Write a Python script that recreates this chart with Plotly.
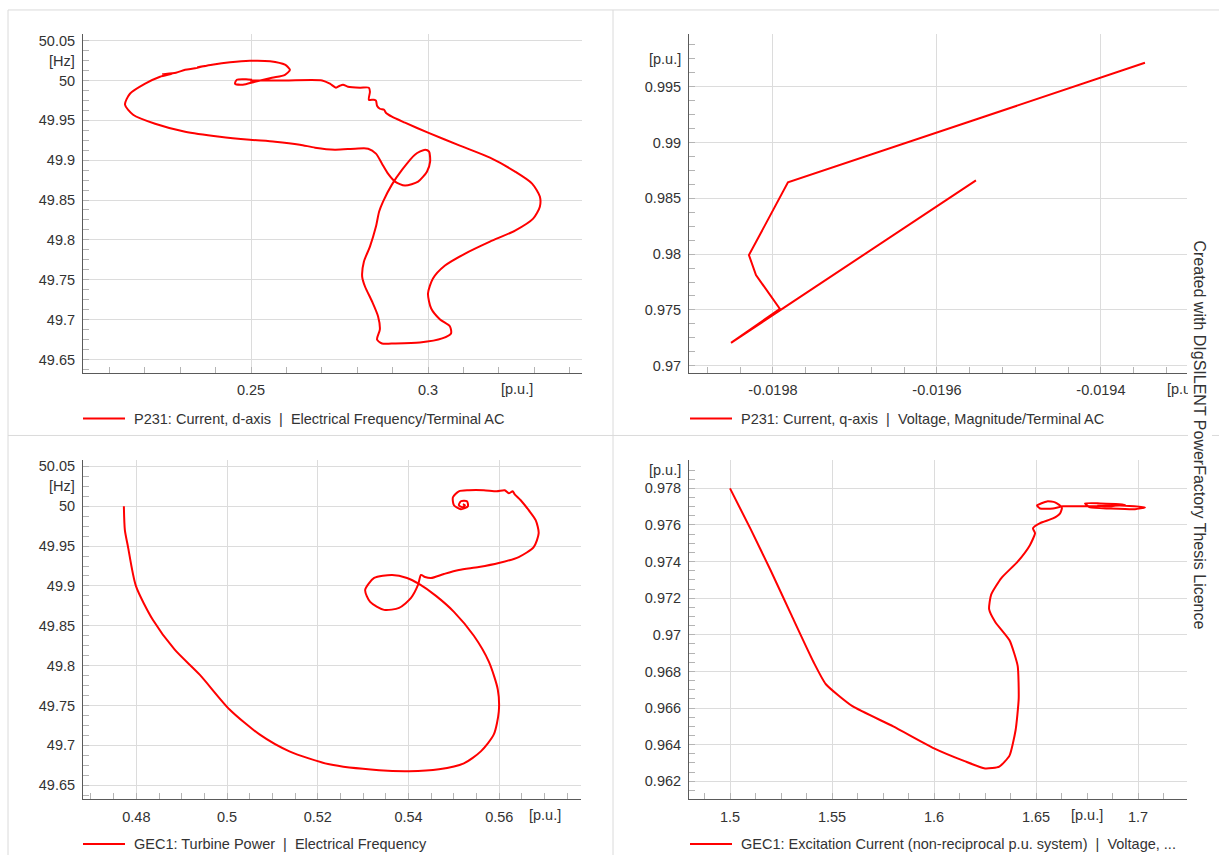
import plotly.graph_objects as go

W, H = 1219, 856

RED = "#ff0000"
GRID = "#dcdcdc"
AXIS = "#5a5a5a"
MINOR = "#b4b4b4"
FRAME = "#dadada"
TEXT = "#333333"
FONT = "Liberation Sans, Arial, sans-serif"

# P231: current d-axis [p.u.] vs electrical frequency [Hz]
P231_ID = [0.2497, 0.2596, 0.2701, 0.2723, 0.2740, 0.2751, 0.2760, 0.2774, 0.2808, 0.2833,
           0.2836, 0.2833, 0.2847, 0.2853, 0.2856, 0.2864, 0.2876, 0.2881, 0.2898, 0.2935,
           0.3000, 0.3090, 0.3175, 0.3246, 0.3294, 0.3316, 0.3316, 0.3297, 0.3246, 0.3175,
           0.3105, 0.3048, 0.3014, 0.3000, 0.3009, 0.3034, 0.3062, 0.3065, 0.3040, 0.2977,
           0.2907, 0.2870, 0.2856, 0.2864, 0.2859, 0.2842, 0.2822, 0.2814, 0.2819, 0.2836,
           0.2853, 0.2862, 0.2873, 0.2898, 0.2927, 0.2963, 0.2992, 0.3003, 0.3006, 0.2997,
           0.2972, 0.2935, 0.2907, 0.2887, 0.2870, 0.2853, 0.2831, 0.2794, 0.2737, 0.2681,
           0.2638, 0.2568, 0.2497, 0.2412, 0.2314, 0.2229, 0.2167, 0.2144, 0.2158, 0.2201,
           0.2243, 0.2277, 0.2251, 0.2288, 0.2314, 0.2342, 0.2370, 0.2350, 0.2390, 0.2441,
           0.2497, 0.2554, 0.2596, 0.2610, 0.2596, 0.2559, 0.2511, 0.2477, 0.2455, 0.2460,
           0.2486, 0.2503]
P231_FREQ = [50.000, 50.000, 50.000, 49.9959, 49.9909, 49.9934, 49.9946, 49.9921, 49.9909, 49.9909,
             49.9858, 49.9758, 49.9758, 49.9746, 49.9683, 49.9645, 49.9633, 49.9595, 49.9545, 49.9470,
             49.9345, 49.9182, 49.9031, 49.8856, 49.8706, 49.8543, 49.8417, 49.8267, 49.8117, 49.7979,
             49.7829, 49.7678, 49.7515, 49.7327, 49.7139, 49.7002, 49.6914, 49.6826, 49.6764, 49.6713,
             49.6701, 49.6701, 49.6751, 49.6876, 49.7039, 49.7227, 49.7415, 49.7540, 49.7728, 49.7916,
             49.8167, 49.8355, 49.8480, 49.8693, 49.8881, 49.9069, 49.9132, 49.9107, 49.8981, 49.8856,
             49.8731, 49.8681, 49.8731, 49.8831, 49.8956, 49.9082, 49.9144, 49.9144, 49.9132, 49.9157,
             49.9194, 49.9232, 49.9257, 49.9295, 49.9357, 49.9457, 49.9570, 49.9696, 49.9833, 49.9959,
             50.0046, 50.0084, 50.0078, 50.0096, 50.0134, 50.0153, 50.0184, 50.0165, 50.0197, 50.0228,
             50.0247, 50.0241, 50.0197, 50.0134, 50.0071, 50.0034, 49.9984, 49.9946, 49.9959, 50.0009,
             50.0015, 50.0009]

# P231: current q-axis [p.u.] vs terminal voltage magnitude [p.u.]
P231_IQ = [-0.0193463, -0.0197817, -0.0198293, -0.0198207, -0.0197915, -0.0198512, -0.0195524]
P231_U = [0.99714, 0.98643, 0.97991, 0.97812, 0.97509, 0.97205, 0.98661]

# GEC1: turbine power [p.u.] vs electrical frequency [Hz]
GEC1_PT = [0.47725, 0.47747, 0.47813, 0.4799, 0.48363, 0.48846, 0.49396, 0.50055, 0.50715, 0.51374,
           0.52253, 0.53352, 0.54011, 0.54671, 0.55220, 0.55594, 0.55880, 0.55990, 0.55968, 0.55770,
           0.55440, 0.55001, 0.54605, 0.54231, 0.53967, 0.53638, 0.53242, 0.53044, 0.53154, 0.53462,
           0.53792, 0.54055, 0.54209, 0.54275, 0.54363, 0.54495, 0.54781, 0.55110, 0.55550, 0.55990,
           0.56429, 0.56759, 0.56869, 0.56803, 0.56649, 0.56473, 0.56341, 0.56297, 0.56209, 0.56121,
           0.55946, 0.55660, 0.55330, 0.55110, 0.54979, 0.55001, 0.55155, 0.55309, 0.55287, 0.55155,
           0.55110, 0.55198, 0.55243, 0.55198]
GEC1_FREQ = [50.0, 49.97, 49.95, 49.9, 49.8575, 49.82, 49.78875, 49.745, 49.71375, 49.6925,
             49.67625, 49.66875, 49.6675, 49.67, 49.6775, 49.6925, 49.71375, 49.7425, 49.77, 49.805,
             49.8375, 49.8675, 49.8875, 49.9025, 49.91, 49.91375, 49.91, 49.895, 49.88, 49.87,
             49.8725, 49.885, 49.90125, 49.91375, 49.91125, 49.91, 49.915, 49.92, 49.92375, 49.92875,
             49.93625, 49.94875, 49.96625, 49.9825, 49.995, 50.0075, 50.015, 50.01875, 50.01625, 50.02,
             50.01875, 50.02, 50.02, 50.01875, 50.01125, 50.00125, 49.99625, 50.0, 50.00625, 50.00625,
             50.00125, 49.99875, 50.00125, 50.0025]

# GEC1: excitation current [p.u.] vs voltage [p.u.]
GEC1_IE = [1.5, 1.51, 1.52, 1.53, 1.541, 1.547, 1.56, 1.58, 1.60, 1.615,
           1.625, 1.632, 1.637, 1.640, 1.6415, 1.641, 1.637, 1.630, 1.627, 1.628,
           1.633, 1.641, 1.647, 1.6495, 1.6485, 1.652, 1.6583, 1.6618, 1.6627, 1.6593,
           1.6554, 1.6505, 1.652, 1.6583, 1.6632, 1.6765, 1.6912, 1.7034, 1.6985, 1.6863,
           1.6765, 1.674, 1.6814, 1.6936, 1.6863, 1.68]
GEC1_U = [0.978, 0.9758, 0.9735, 0.9711, 0.9685, 0.9673, 0.9661, 0.9650, 0.9638, 0.9631,
          0.9627, 0.9628, 0.9634, 0.9648, 0.9665, 0.9683, 0.9697, 0.9707, 0.9714, 0.9722,
          0.9731, 0.9740, 0.9749, 0.97555, 0.97582, 0.9761, 0.97636, 0.97664, 0.97696, 0.97724,
          0.97729, 0.97707, 0.9769, 0.9769, 0.97702, 0.97702, 0.97707, 0.97696, 0.97686, 0.9769,
          0.97696, 0.97718, 0.97718, 0.97712, 0.97702, 0.97705]

# tick values / labels
FREQ_TICKS = [49.65, 49.7, 49.75, 49.8, 49.85, 49.9, 49.95, 50.0, 50.05]
FREQ_LABELS = ["49.65", "49.7", "49.75", "49.8", "49.85", "49.9", "49.95", "50", "50.05"]
ID_TICKS = [0.25, 0.3]
ID_LABELS = ["0.25", "0.3"]
IQ_TICKS = [-0.0198, -0.0196, -0.0194]
IQ_LABELS = ["-0.0198", "-0.0196", "-0.0194"]
UT_TICKS = [0.97, 0.975, 0.98, 0.985, 0.99, 0.995]
UT_LABELS = ["0.97", "0.975", "0.98", "0.985", "0.99", "0.995"]
PT_TICKS = [0.48, 0.5, 0.52, 0.54, 0.56]
PT_LABELS = ["0.48", "0.5", "0.52", "0.54", "0.56"]
IE_TICKS = [1.5, 1.55, 1.6, 1.65, 1.7]
IE_LABELS = ["1.5", "1.55", "1.6", "1.65", "1.7"]
UG_TICKS = [0.962, 0.964, 0.966, 0.968, 0.97, 0.972, 0.974, 0.976, 0.978]
UG_LABELS = ["0.962", "0.964", "0.966", "0.968", "0.97", "0.972", "0.974", "0.976", "0.978"]


def px_x(px):
    return px / W


def px_y(py):
    return 1 - py / H


PANELS = [
    dict(
        x=P231_ID, y=P231_FREQ, smooth=0.7,
        xdom=(83, 582), ydom=(32, 372),
        xrange=[0.202542, 0.343503], yrange=[49.6334, 50.0584],
        xticks=(ID_TICKS, ID_LABELS, 0.01, 0.2), yticks=(FREQ_TICKS, FREQ_LABELS, 0.0125, 49.65),
        xunit=(0.325, "[p.u.]"), yunit=(50.025, "[Hz]"),
        legend_y=418, legend_x=83,
        name="P231: Current, d-axis \u00a0|\u00a0 Electrical Frequency/Terminal AC",
    ),
    dict(
        x=P231_IQ, y=P231_U, smooth=0,
        xdom=(689, 1187), ydom=(32, 372),
        xrange=[-0.0199024, -0.019295], yrange=[0.969375, 0.999732],
        xticks=(IQ_TICKS, IQ_LABELS, 0.00004, -0.02), yticks=(UT_TICKS, UT_LABELS, 0.00125, 0.97),
        xunit=(-0.0193, "[p.u.]"), yunit=(0.9975, "[p.u.]"),
        legend_y=418, legend_x=690,
        name="P231: Current, q-axis \u00a0|\u00a0 Voltage, Magnitude/Terminal AC",
    ),
    dict(
        x=GEC1_PT, y=GEC1_FREQ, smooth=0.7,
        xdom=(83, 581), ydom=(460, 800),
        xrange=[0.46824, 0.57802], yrange=[49.6325, 50.0575],
        xticks=(PT_TICKS, PT_LABELS, 0.005, 0.46), yticks=(FREQ_TICKS, FREQ_LABELS, 0.0125, 49.65),
        xunit=(0.57, "[p.u.]"), yunit=(50.025, "[Hz]"),
        legend_y=845, legend_x=83,
        name="GEC1: Turbine Power \u00a0|\u00a0 Electrical Frequency",
    ),
    dict(
        x=GEC1_IE, y=GEC1_U, smooth=0.5,
        xdom=(689, 1187), ydom=(460, 800),
        xrange=[1.4799, 1.7240], yrange=[0.96102, 0.97953],
        xticks=(IE_TICKS, IE_LABELS, 0.0125, 1.45), yticks=(UG_TICKS, UG_LABELS, 0.0005, 0.962),
        xunit=(1.675, "[p.u.]"), yunit=(0.979, "[p.u.]"),
        legend_y=845, legend_x=690,
        name="GEC1: Excitation Current (non-reciprocal p.u. system) \u00a0|\u00a0 Voltage, ...",
    ),
]


def _axis(domain, rng, ticks, anchor):
    vals, labels, minor_dtick, minor_tick0 = ticks
    return dict(
        domain=domain,
        range=rng,
        anchor=anchor,
        tickmode="array",
        tickvals=vals,
        ticktext=labels,
        ticks="inside",
        ticklen=6,
        tickcolor=MINOR,
        ticklabelstandoff=4,
        tickfont=dict(family=FONT, size=14.5, color=TEXT),
        showgrid=True,
        gridcolor=GRID,
        gridwidth=1,
        showline=True,
        linecolor=AXIS,
        linewidth=1,
        zeroline=False,
        minor=dict(
            tickmode="linear",
            tick0=minor_tick0,
            dtick=minor_dtick,
            ticks="inside",
            ticklen=6,
            tickcolor=MINOR,
            showgrid=False,
        ),
    )


fig = go.Figure()
annotations = []
shapes = []

for i, p in enumerate(PANELS, start=1):
    sfx = "" if i == 1 else str(i)
    fig.add_trace(
        go.Scatter(
            x=p["x"], y=p["y"], mode="lines", name=p["name"],
            xaxis="x" + sfx, yaxis="y" + sfx, showlegend=False, hoverinfo="skip",
            line=dict(color=RED, width=2,
                      shape="spline" if p["smooth"] else "linear",
                      smoothing=p["smooth"] or None),
        )
    )
    x0, x1 = p["xdom"]
    y0, y1 = p["ydom"]
    fig.layout["xaxis" + sfx] = _axis([px_x(x0), px_x(x1)], p["xrange"], p["xticks"], "y" + sfx)
    fig.layout["yaxis" + sfx] = _axis([px_y(y1), px_y(y0)], p["yrange"], p["yticks"], "x" + sfx)

    # unit labels sit where a tick label would be
    ux, utext = p["xunit"]
    annotations.append(dict(
        x=ux, xref="x" + sfx, y=0, yref="y" + sfx + " domain",
        text=utext, showarrow=False, xanchor="center", yanchor="top", yshift=-6,
        font=dict(family=FONT, size=14.5, color=TEXT),
    ))
    uy, utext = p["yunit"]
    annotations.append(dict(
        x=0, xref="x" + sfx + " domain", y=uy, yref="y" + sfx,
        text=utext, showarrow=False, xanchor="right", yanchor="middle", xshift=-6,
        font=dict(family=FONT, size=14.5, color=TEXT),
    ))

    # legend entry below each plot
    lx, ly = p["legend_x"], p["legend_y"]
    shapes.append(dict(type="line", xref="paper", yref="paper",
                       x0=px_x(lx), x1=px_x(lx + 42), y0=px_y(ly), y1=px_y(ly),
                       line=dict(color=RED, width=2)))
    annotations.append(dict(
        x=px_x(lx + 49), y=px_y(ly), xref="paper", yref="paper",
        text=p["name"], showarrow=False, xanchor="left", yanchor="middle",
        font=dict(family=FONT, size=14.5, color=TEXT),
    ))

# panel frame lines
for (xa, ya, xb, yb) in [(8, 8, W, 8), (8, 8, 8, H), (613, 8, 613, H), (8, 435, W, 435)]:
    shapes.append(dict(type="line", xref="paper", yref="paper",
                       x0=px_x(xa), y0=px_y(ya), x1=px_x(xb), y1=px_y(yb),
                       line=dict(color=FRAME, width=1), layer="below"))

annotations.append(dict(
    x=px_x(1212), y=px_y(434.5), xref="paper", yref="paper",
    text="Created with DIgSILENT PowerFactory Thesis Licence",
    showarrow=False, textangle=90, bgcolor="white", borderpad=3,
    font=dict(family=FONT, size=16, color=TEXT),
))

fig.update_layout(
    width=W,
    height=H,
    margin=dict(l=0, r=0, t=0, b=0),
    paper_bgcolor="white",
    plot_bgcolor="white",
    showlegend=False,
    annotations=annotations,
    shapes=shapes,
)

fig.write_html(
    "out.html",
    config={"displayModeBar": False},
    post_script="document.body.style.margin='0';document.body.style.overflow='hidden';",
)
